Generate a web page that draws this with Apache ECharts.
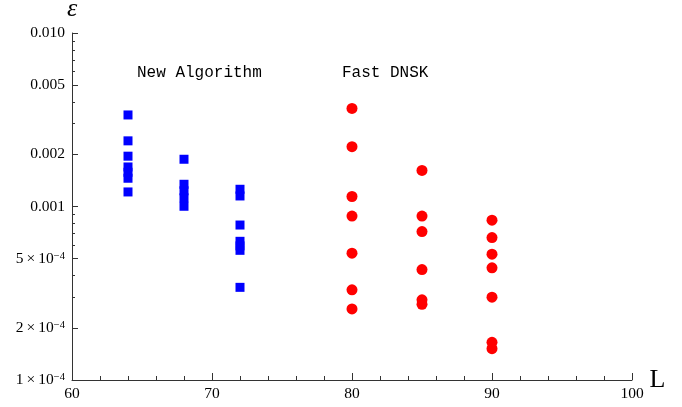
<!DOCTYPE html>
<html lang="en">
<head>
	<meta charset="UTF-8">
	<title>error vs L</title>
	<script src="https://cdn.jsdelivr.net/npm/echarts@6/dist/echarts.min.js"></script>
	<style>
		html, body { margin: 0; padding: 0; background: #fff; }
		#main { width: 682px; height: 407px; }
	</style>
</head>
<body>
	<div id="main"></div>
	<script type="text/javascript">
		// values
		var newAlgoL = [64, 68, 72];
		var newAlgoErr = [
			[0.00337, 0.00239, 0.00195, 0.00169, 0.001575, 0.001455, 0.001213],
			[0.001872, 0.001343, 0.001232, 0.001122, 0.001003],
			[0.001257, 0.00115, 0.000782, 0.00063, 0.000593, 0.000559, 0.000342]
		];
		var dnskL = [80, 85, 90];
		var dnskErr = [
			[0.003677, 0.002211, 0.001142, 0.000881, 0.000538, 0.000331, 0.000257],
			[0.001613, 0.000881, 0.000717, 0.000433, 0.00029, 0.000273],
			[0.000834, 0.000662, 0.000531, 0.000443, 0.0003, 0.000165, 0.0001516]
		];
		var xTicks = [60, 70, 80, 90, 100];
		var yMajor = [0.0001, 0.0002, 0.0005, 0.001, 0.002, 0.005, 0.01];
		var yMajorText = ['1', '2', '5', '0.001', '0.002', '0.005', '0.010'];
		var yMinor = [0.0003, 0.0004, 0.0006, 0.0007, 0.0008, 0.0009,
			0.003, 0.004, 0.006, 0.007, 0.008, 0.009];

		function pairs(xs, ys) {
			var out = [];
			xs.forEach(function (x, i) {
				ys[i].forEach(function (v) { out.push([x, v]); });
			});
			return out;
		}

		var serif = '"Liberation Serif", "DejaVu Serif", serif';
		var axisColor = '#333';

		var myChart = echarts.init(document.getElementById('main'));

		var option = {
			backgroundColor: '#fff',
			animation: false,
			grid: { left: 72, right: 50, top: 33, bottom: 27, containLabel: false, outerBoundsMode: 'none' },
			xAxis: {
				type: 'value',
				min: 60, max: 100, interval: 10,
				name: 'L',
				nameLocation: 'end',
				nameGap: 16,
				nameTextStyle: { fontFamily: serif, fontSize: 26, color: '#000' },
				axisLine: { lineStyle: { color: axisColor, width: 1 } },
				axisTick: { inside: true, length: 7, lineStyle: { color: axisColor } },
				minorTick: { show: true, splitNumber: 5, length: 4, lineStyle: { color: axisColor } },
				splitLine: { show: false },
				axisLabel: {
					margin: 6, fontFamily: serif, fontSize: 15.5, color: '#000',
					formatter: function (v) { return xTicks.indexOf(v) >= 0 ? String(v) : ''; }
				}
			},
			yAxis: [{
				type: 'log',
				logBase: 10,
				min: 0.0001, max: 0.01,
				position: 'left',
				name: 'ε',
				nameLocation: 'end',
				nameGap: 11,
				nameTextStyle: { fontFamily: serif, fontStyle: 'italic', fontSize: 26, color: '#000', align: 'center' },
				axisLine: { show: true, lineStyle: { color: axisColor, width: 1 } },
				axisTick: { show: true, inside: true, length: 6, customValues: yMajor, lineStyle: { color: axisColor } },
				splitLine: { show: false },
				axisLabel: {
					margin: 7,
					customValues: yMajor,
					fontFamily: serif, fontSize: 15.5, color: '#000',
					formatter: function (v) {
						var k = -1;
						yMajor.forEach(function (m, i) { if (Math.abs(m - v) / m < 1e-6) k = i; });
						if (k < 0) return '';
						if (k < 3) return '{a|' + yMajorText[k] + '\u2009×\u200910}{s|−4}';
						return '{a|' + yMajorText[k] + '}';
					},
					rich: {
						a: { fontFamily: serif, fontSize: 15.5, color: '#000' },
						s: { fontFamily: serif, fontSize: 10.5, color: '#000', verticalAlign: 'top', padding: [0, 0, 4, 0] }
					}
				}
			}, {
				type: 'log',
				logBase: 10,
				min: 0.0001, max: 0.01,
				position: 'left',
				offset: 0,
				axisLine: { show: false },
				axisTick: { show: true, inside: true, length: 3, customValues: yMinor, lineStyle: { color: axisColor } },
				axisLabel: { show: false },
				splitLine: { show: false }
			}],
			graphic: [{
				type: 'text', left: 137, top: 65,
				style: { text: 'New Algorithm', fontFamily: '"Liberation Mono", monospace', fontSize: 16, fill: '#000' }
			}, {
				type: 'text', left: 342, top: 65,
				style: { text: 'Fast DNSK', fontFamily: '"Liberation Mono", monospace', fontSize: 16, fill: '#000' }
			}],
			series: [{
				name: 'New Algorithm',
				type: 'scatter',
				symbol: 'rect',
				symbolSize: 9,
				itemStyle: { color: '#0000ff', opacity: 1 },
				data: pairs(newAlgoL, newAlgoErr)
			}, {
				name: 'Fast DNSK',
				type: 'scatter',
				symbol: 'circle',
				symbolSize: 11,
				itemStyle: { color: '#ff0000', opacity: 1 },
				data: pairs(dnskL, dnskErr)
			}]
		};

		myChart.setOption(option);
	</script>
</body>
</html>
